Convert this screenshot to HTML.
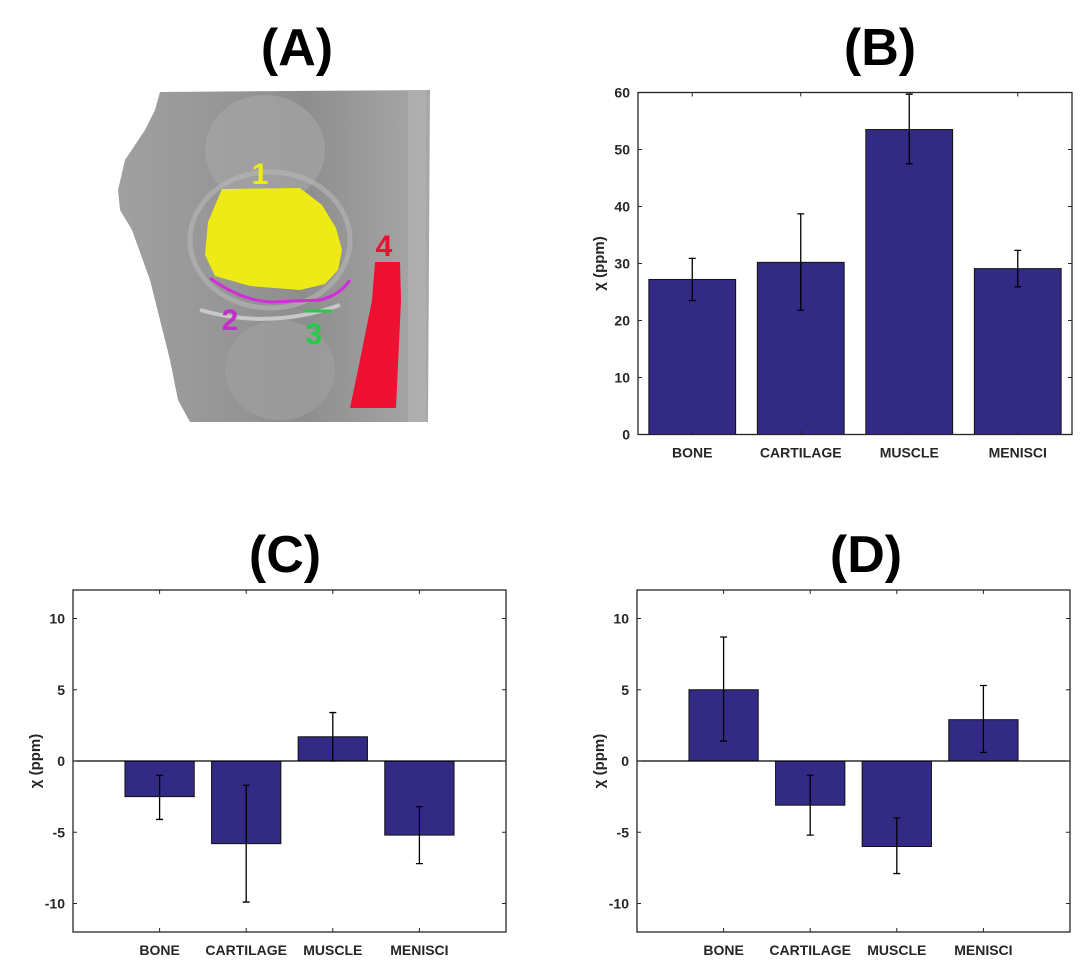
<!DOCTYPE html>
<html><head><meta charset="utf-8"><style>
body{margin:0;background:#fff;}
svg{display:block;font-family:"Liberation Sans",Arial,sans-serif;}
</style></head><body>
<svg id="fig" width="1085" height="977" viewBox="0 0 1085 977">
<g>
<text x="297" y="65" font-size="52" font-weight="bold" text-anchor="middle">(A)</text>
<defs><linearGradient id="gk" x1="0" x2="1"><stop offset="0" stop-color="#a0a0a0"/><stop offset="0.6" stop-color="#8e8e8e"/><stop offset="1" stop-color="#a8a8a8"/></linearGradient></defs>
<polygon fill="url(#gk)" points="160,92 430,90 428,422 190,422 178,400 170,360 160,320 150,280 132,230 120,210 118,190 125,160 145,130 155,110"/>
<ellipse cx="265" cy="150" rx="60" ry="55" fill="#a9a9a9" opacity="0.6"/>
<ellipse cx="270" cy="240" rx="80" ry="68" fill="none" stroke="#b8b8b8" stroke-width="5" opacity="0.6"/>
<ellipse cx="280" cy="370" rx="55" ry="50" fill="#a2a2a2" opacity="0.6"/>
<path d="M200 310 Q270 330 340 305" stroke="#c8c8c8" stroke-width="4" fill="none"/>
<rect x="408" y="90" width="18" height="332" fill="#b8b8b8" opacity="0.5"/>
<polygon fill="#eeea15" points="222,189 300,188 322,205 336,228 342,250 338,270 325,284 300,290 250,286 215,276 205,255 208,222"/>
<path d="M210 278 Q240 300 270 302 L320 300 Q340 295 350 280" stroke="#d22ed8" stroke-width="3" fill="none"/>
<path d="M305 311 L332 311" stroke="#22cc44" stroke-width="3"/>
<polygon fill="#ee1030" points="375,262 400,262 401,300 396,408 350,408 360,360 372,300"/>
<text x="260" y="184" font-size="30" font-weight="bold" fill="#eeea15" text-anchor="middle">1</text>
<text x="230" y="330" font-size="30" font-weight="bold" fill="#c62ecc" text-anchor="middle">2</text>
<text x="314" y="344" font-size="30" font-weight="bold" fill="#22cc44" text-anchor="middle">3</text>
<text x="384" y="256" font-size="30" font-weight="bold" fill="#ee1030" text-anchor="middle">4</text>
</g>
</svg>
<script>
const categories=["BONE","CARTILAGE","MUSCLE","MENISCI"];
const valuesB=[27.2,30.2,53.5,29.1];
const lowB=[23.5,21.8,47.5,25.9];
const highB=[30.9,38.7,59.7,32.3];
const ticksB=[0,10,20,30,40,50,60];
const valuesC=[-2.5,-5.8,1.7,-5.2];
const lowC=[-4.1,-9.9,0.0,-7.2];
const highC=[-1.0,-1.7,3.4,-3.2];
const valuesD=[5.0,-3.1,-6.0,2.9];
const lowD=[1.4,-5.2,-7.9,0.6];
const highD=[8.7,-1.0,-4.0,5.3];
const ticksCD=[-10,-5,0,5,10];

const NS="http://www.w3.org/2000/svg";
const svg=document.getElementById('fig');
function mk(tag,attrs,parent){const e=document.createElementNS(NS,tag);for(const k in attrs)e.setAttribute(k,attrs[k]);parent.appendChild(e);return e;}

function panel(cfg){
  const g=mk('g',{},svg);
  
  
  const {L,R,T,B,xmin,xmax,ymin,ymax}=cfg;
  const xs=v=>L+(v-xmin)/(xmax-xmin)*(R-L);
  const ys=v=>B-(v-ymin)/(ymax-ymin)*(B-T);
  const t=mk('text',{x:cfg.titleX,y:cfg.titleY,'font-size':52,'font-weight':'bold','text-anchor':'middle'},g);
  t.textContent=cfg.title;
  
  
  const base=Math.max(ymin,0);
  cfg.values.forEach((v,i)=>{
    const cx=xs(i+1),w=(xs(1.8)-xs(1));
    const y0=ys(base),y1=ys(v);
    const r=mk('rect',{x:cx-w/2,y:Math.min(y0,y1),width:w,height:Math.abs(y1-y0),fill:'#332a86',stroke:'#111',"stroke-width":1},g);
    
    
  });
  if(ymin<0){
    const zl=mk('line',{x1:L,x2:R,y1:ys(0),y2:ys(0),stroke:'#000','stroke-width':1.2},g);
    
    
  }
  cfg.values.forEach((v,i)=>{
    const cx=xs(i+1),lo=ys(cfg.low[i]),hi=ys(cfg.high[i]);
    const eb=mk('path',{d:`M${cx} ${lo}V${hi}M${cx-3.5} ${lo}H${cx+3.5}M${cx-3.5} ${hi}H${cx+3.5}`,stroke:'#000','stroke-width':1.3,fill:'none'},g);
    
    
  });
  const box=mk('rect',{x:L,y:T,width:R-L,height:B-T,fill:'none',stroke:'#262626','stroke-width':1.3},g);
  
  
  cfg.ticks.forEach(tv=>{
    const y=ys(tv);
    mk('path',{d:`M${L} ${y}h4M${R} ${y}h-4`,stroke:'#262626','stroke-width':1},g);
    const tl=mk('text',{x:L-8,y:y+5,'font-size':14,'font-weight':'bold','text-anchor':'end',fill:'#262626'},g);
    tl.textContent=tv;
    
    
  });
  categories.forEach((c,i)=>{
    const x=xs(i+1);
    mk('path',{d:`M${x} ${B}v-4M${x} ${T}v4`,stroke:'#262626','stroke-width':1},g);
    const cl=mk('text',{x:x,y:B+23,'font-size':14,'font-weight':'bold','text-anchor':'middle',fill:'#262626'},g);
    cl.textContent=c;
    
    
  });
  const yl=mk('text',{x:0,y:0,'font-size':15,'font-weight':'bold','text-anchor':'middle',fill:'#262626',transform:`translate(${cfg.ylx},${(T+B)/2}) rotate(-90)`},g);
  yl.textContent='χ (ppm)';
  
  
}
panel({name:'panel-b',title:'(B)',titleX:880,titleY:65,L:638,R:1072,T:92.5,B:434.5,xmin:0.5,xmax:4.5,ymin:0,ymax:60,values:valuesB,low:lowB,high:highB,ticks:ticksB,ylx:604});
panel({name:'panel-c',title:'(C)',titleX:285,titleY:572,L:73,R:506,T:590,B:932,xmin:0,xmax:5,ymin:-12,ymax:12,values:valuesC,low:lowC,high:highC,ticks:ticksCD,ylx:40});
panel({name:'panel-d',title:'(D)',titleX:866,titleY:572,L:637,R:1070,T:590,B:932,xmin:0,xmax:5,ymin:-12,ymax:12,values:valuesD,low:lowD,high:highD,ticks:ticksCD,ylx:604});
</script>
</body></html>
